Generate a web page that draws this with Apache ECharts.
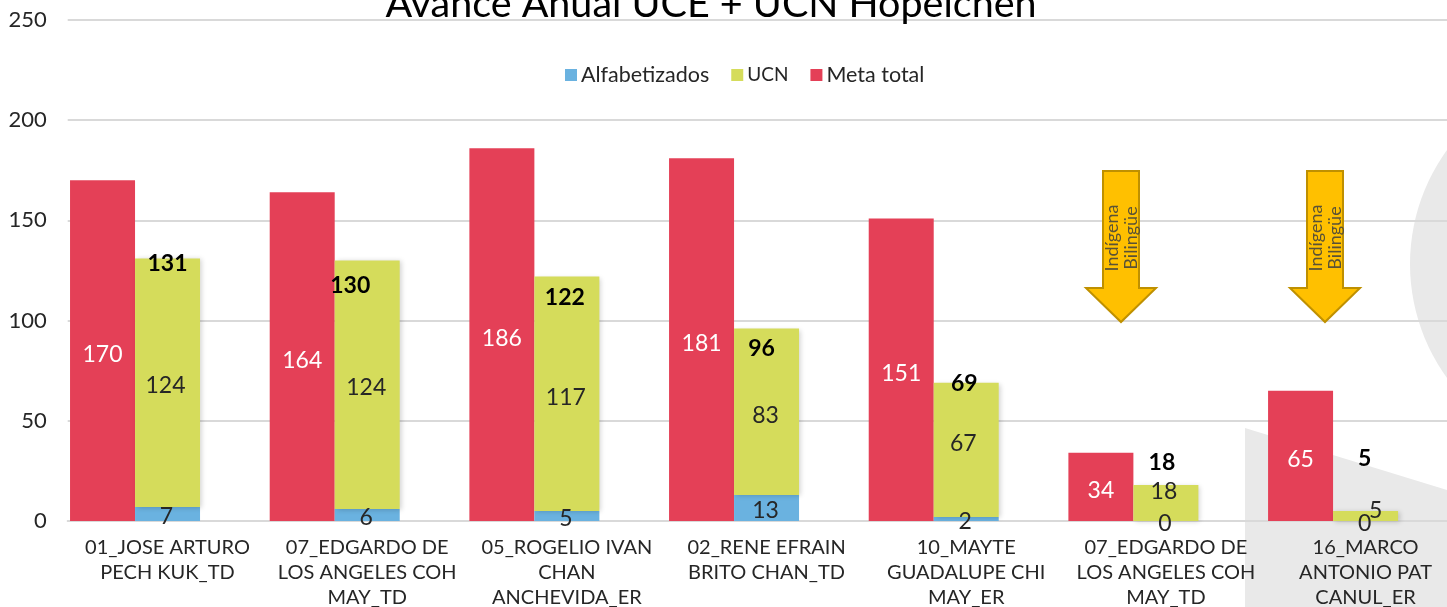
<!DOCTYPE html>
<html><head><meta charset="utf-8">
<style>html,body{margin:0;padding:0;background:#fff;overflow:hidden}#c{width:1447px;height:607px}</style>
<script src="https://cdn.jsdelivr.net/npm/echarts@6/dist/echarts.min.js"></script>
</head><body><div id="c"></div>
<script>
const categories = ["01_JOSE ARTURO\nPECH KUK_TD","07_EDGARDO DE\nLOS ANGELES COH\nMAY_TD","05_ROGELIO IVAN\nCHAN\nANCHEVIDA_ER","02_RENE EFRAIN\nBRITO CHAN_TD","10_MAYTE\nGUADALUPE CHI\nMAY_ER","07_EDGARDO DE\nLOS ANGELES COH\nMAY_TD","16_MARCO\nANTONIO PAT\nCANUL_ER"];
const metaTotal = [170,164,186,181,151,34,65];
const alfabetizados = [7,6,5,13,2,0,0];
const ucn = [124,124,117,83,67,18,5];
const totals = [131,130,122,96,69,18,5];
const totalLabelShift = [[0,5],[-17,25],[-2,21],[-5,20],[-2,1],[-4,-22],[-1,-52]];
const ucnLabelShift = [[-2,3],[-1,3],[-1,4],[-1,4],[-3,-6],[-2,-11],[10,-5]];
const FONT = "Lato";
const arrowXs = [1121,1325];
const arrowGraphics = [];
arrowXs.forEach(x=>{
  arrowGraphics.push({type:'polygon',z:5,shape:{points:[[x-18,171],[x+18,171],[x+18,288],[x+35,288],[x,322],[x-35,288],[x-18,288]]},style:{fill:'#FFC000',stroke:'#BF9000',lineWidth:2}});
  arrowGraphics.push({type:'text',z:6,x:x+1,y:238,rotation:Math.PI/2,style:{text:'Indígena\nBilingüe',fill:'#5a5236',font:'18px '+FONT,align:'center',verticalAlign:'middle',lineHeight:19}});
});
const chart = echarts.init(document.getElementById('c'));
const labelBase = {show:true,position:'inside',fontFamily:FONT,fontSize:23,color:'#262626'};
chart.setOption({
  animation:false,
  title:{text:'Avance Anual UCE + UCN Hopelchen',left:706,top:-21,textAlign:'center',textStyle:{fontFamily:FONT,fontSize:39.5,fontWeight:'normal',color:'#000'}},
  legend:{data:['Alfabetizados',{name:'UCN',textStyle:{fontSize:19}},'Meta total'],left:560,top:59,itemWidth:12,itemHeight:12,itemGap:22,icon:'rect',textStyle:{fontFamily:FONT,fontSize:21.5,color:'#262626',padding:[0,0,0,-1]}},
  grid:{left:67.7,top:20,width:1397.7,height:501,containLabel:false,outerBoundsMode:'none'},
  xAxis:{type:'category',data:categories,axisTick:{show:false},axisLine:{lineStyle:{color:'#d9d9d9',width:2}},axisLabel:{interval:0,margin:14,fontFamily:FONT,fontSize:20,lineHeight:25,color:'#262626',verticalAlign:'top'}},
  yAxis:{type:'value',min:0,max:250,interval:50,axisLine:{show:false},axisTick:{show:false},axisLabel:{margin:21,fontFamily:FONT,fontSize:22,color:'#262626'},splitLine:{lineStyle:{color:'#d9d9d9',width:2}}},
  graphic:{elements:[
    {type:'polygon',z:-1,silent:true,shape:{points:[[1245,428],[1447,490],[1447,607],[1245,607]]},style:{fill:'#e9e9e9'}},
    {type:'circle',z:-1,silent:true,shape:{cx:1604,cy:264,r:194},style:{fill:'#e9e9e9'}},
    ...arrowGraphics
  ]},
  series:[
    {name:'Meta total',type:'bar',barWidth:65,barGap:0,data:metaTotal,itemStyle:{color:'#E44057'},label:{...labelBase,color:'#fff',offset:[0,4]}},
    {name:'Alfabetizados',type:'bar',stack:'avance',barWidth:65,data:alfabetizados,itemStyle:{color:'#6AB2E0'},label:{...labelBase,offset:[-1,3]}},
    {name:'UCN',type:'bar',stack:'avance',barWidth:65,itemStyle:{color:'#D5DC5B',shadowColor:'rgba(0,0,0,0.18)',shadowBlur:5,shadowOffsetX:2,shadowOffsetY:1},
      data:ucn.map((v,i)=>({value:v,label:{offset:ucnLabelShift[i]}})),label:labelBase},
    {name:'Hueco',type:'bar',barWidth:65,data:[]},
    {name:'Total',type:'line',z:10,symbol:'circle',symbolSize:0,lineStyle:{opacity:0},
      data:totals.map((v,i)=>({value:v,label:{offset:totalLabelShift[i]}})),
      label:{show:true,position:'inside',fontFamily:FONT,fontSize:23,fontWeight:'bold',color:'#000'}}
  ]
});
</script></body></html>
